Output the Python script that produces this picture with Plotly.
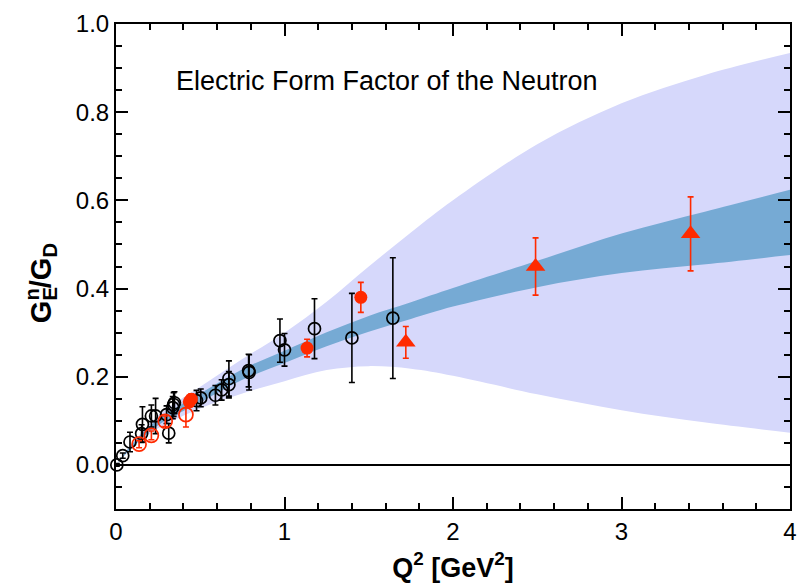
import plotly.graph_objects as go

# Fit bands for G_E^n / G_D versus Q^2 (edges sampled along Q^2)
band_q = [0, 0.1, 0.25, 0.5, 0.75, 1.0, 1.25, 1.5, 1.75, 2.0, 2.5, 3.0, 3.5, 4.0]
outer_hi = [0, 0.05, 0.112, 0.177, 0.24, 0.30, 0.37, 0.45, 0.527, 0.60, 0.727, 0.82, 0.885, 0.934]
outer_lo = [0, 0.04, 0.083, 0.128, 0.162, 0.19, 0.215, 0.224, 0.218, 0.202, 0.16, 0.124, 0.096, 0.073]
inner_hi = [0, 0.049, 0.104, 0.162, 0.217, 0.259, 0.301, 0.338, 0.369, 0.401, 0.463, 0.525, 0.575, 0.624]
inner_lo = [0, 0.041, 0.090, 0.142, 0.193, 0.231, 0.269, 0.302, 0.331, 0.359, 0.403, 0.435, 0.455, 0.476]

# Earlier measurements (black open circles)
old_q = [0.005, 0.04, 0.083, 0.152, 0.157, 0.21, 0.235, 0.30, 0.313, 0.337, 0.342, 0.347,
         0.478, 0.503, 0.59, 0.627, 0.67, 0.67, 0.787, 0.79, 0.973, 1.0, 1.178, 1.40, 1.643]
old_g = [0.0, 0.021, 0.052, 0.071, 0.092, 0.111, 0.111, 0.114, 0.072, 0.130, 0.137, 0.141,
         0.146, 0.152, 0.158, 0.170, 0.196, 0.182, 0.214, 0.210, 0.282, 0.261, 0.309, 0.288, 0.333]
old_err = [0.003, 0.006, 0.022, 0.02, 0.04, 0.025, 0.04, 0.02, 0.022, 0.025, 0.027, 0.025,
           0.023, 0.02, 0.022, 0.023, 0.04, 0.03, 0.037, 0.04, 0.049, 0.037, 0.068, 0.101, 0.137]

# Red open circles
ro_q = [0.137, 0.21, 0.292, 0.415]
ro_g = [0.047, 0.067, 0.099, 0.114]
ro_err = [0.008, 0.01, 0.012, 0.028]

# Red filled circles
rf_q = [0.435, 0.447, 1.134, 1.453]
rf_g = [0.143, 0.149, 0.265, 0.380]
rf_err = [0.012, 0.012, 0.02, 0.034]

# Red triangles
rt_q = [1.72, 2.49, 3.41]
rt_g = [0.278, 0.450, 0.524]
rt_err = [0.036, 0.065, 0.084]

RED = "#ff2a00"
LAV = "#d6d8fb"
BLUE = "#76aad4"
FONT = "Liberation Sans, Arial, Helvetica, sans-serif"

fig = go.Figure()

def band(lo, hi, color):
    fig.add_trace(go.Scatter(x=band_q, y=lo, mode="lines", line=dict(width=0, shape="spline", color=color),
                             hoverinfo="skip", showlegend=False))
    fig.add_trace(go.Scatter(x=band_q, y=hi, mode="lines", line=dict(width=0, shape="spline", color=color),
                             fill="tonexty", fillcolor=color, hoverinfo="skip", showlegend=False))

band(outer_lo, outer_hi, LAV)
band(inner_lo, inner_hi, BLUE)

def points(q, g, err, color, symbol, size, lw=1.7):
    fig.add_trace(go.Scatter(
        x=q, y=g, mode="markers", cliponaxis=False, showlegend=False,
        marker=dict(symbol=symbol, size=size, color=color, line=dict(color=color, width=lw)),
        error_y=dict(type="data", array=err, visible=True, color=color, thickness=1.6, width=3),
    ))

points(old_q, old_g, old_err, "black", "circle-open", 12)
points(ro_q, ro_g, ro_err, RED, "circle-open", 14)
points(rf_q, rf_g, rf_err, RED, "circle", 13, lw=0)
points(rt_q, rt_g, rt_err, RED, "triangle-up", 17, lw=0)

axis_common = dict(
    showline=True, linecolor="black", linewidth=2, mirror="allticks",
    ticks="inside", ticklen=12, tickwidth=1.5, tickcolor="black",
    showgrid=False, tickfont=dict(family=FONT, size=24, color="black"),
)

fig.update_xaxes(range=[0, 4], tick0=0, dtick=1, zeroline=False,
                 minor=dict(ticks="inside", ticklen=6, tickwidth=1.5, tickcolor="black", dtick=0.2),
                 **axis_common)
fig.update_yaxes(range=[-0.1, 1.0], tick0=0, dtick=0.2, tickformat=".1f",
                 zeroline=True, zerolinecolor="black", zerolinewidth=1.5,
                 minor=dict(ticks="inside", ticklen=6, tickwidth=1.5, tickcolor="black", dtick=0.05, tick0=0),
                 **axis_common)

fig.update_xaxes(title=dict(text="<b>Q<sup>2</sup> [GeV<sup>2</sup>]</b>",
                            font=dict(family=FONT, size=27, color="black"), standoff=14))

# y-axis label with stacked super/subscript
ylab_x = -0.112
ylab_y = 0.378
fig.add_annotation(xref="paper", yref="paper", x=ylab_x, y=ylab_y, textangle=-90,
                   xanchor="center", yanchor="bottom", showarrow=False,
                   text="<b>G<sup>n</sup>/G<sub>D</sub></b>",
                   font=dict(family=FONT, size=29, color="black"))
fig.add_annotation(xref="paper", yref="paper", x=ylab_x, y=ylab_y, textangle=-90,
                   xanchor="center", yanchor="bottom", showarrow=False,
                   text="<b><span style='color:rgba(0,0,0,0)'>G</span><sub>E</sub>"
                        "<sup><span style='color:rgba(0,0,0,0)'>n</span></sup></b>",
                   font=dict(family=FONT, size=29, color="black"))

fig.add_annotation(xref="paper", yref="paper", x=0.086, y=0.883, xanchor="left", yanchor="middle",
                   showarrow=False, text="Electric Form Factor of the Neutron",
                   font=dict(family=FONT, size=27, color="black"))

fig.update_layout(
    width=807, height=588,
    margin=dict(l=116, r=10, t=15, b=79),
    paper_bgcolor="white", plot_bgcolor="white",
    showlegend=False,
)

fig.write_html("out.html")
